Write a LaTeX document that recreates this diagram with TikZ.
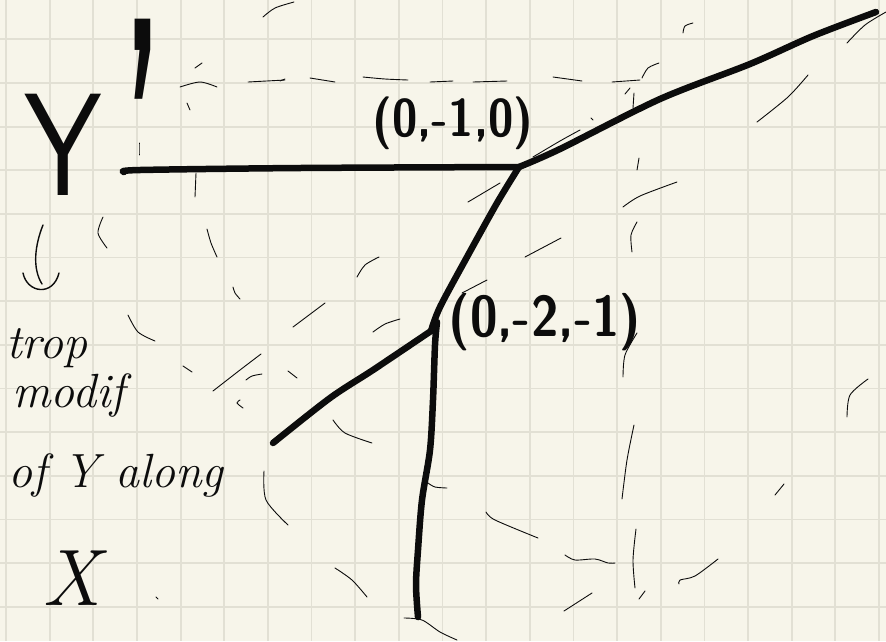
\documentclass[tikz,border=0pt]{standalone}
\usepackage{fontspec}
\definecolor{paper}{RGB}{247,245,234}
\definecolor{gridc}{RGB}{226,224,212}
\definecolor{ink}{RGB}{12,12,12}
\begin{document}
\begin{tikzpicture}[x=1pt,y=-1pt,
  gridline/.style={line width=1.8pt, gridc},
  heavy/.style={line width=6.5pt, line cap=round, line join=round, ink},
  faint/.style={line width=0.9pt, line cap=round, ink},
  hand/.style={line width=1.4pt, line cap=round, ink},
  coordlabel/.style={font=\sffamily\bfseries\fontsize{46}{46}\selectfont, inner sep=0pt, text=ink, yscale=1.15},
  note/.style={font=\itshape\fontsize{48}{48}\selectfont, inner sep=0pt, anchor=base west, text=ink}]
\useasboundingbox (0,0) rectangle (886,641);
\fill[paper] (0,0) rectangle (886,641);
\foreach \i in {0,...,20} \draw[gridline] ({6+43.65*\i},0) -- ({6+43.65*\i},641);
\foreach \j in {1,...,14} \draw[gridline] (0,{-4.35+43.65*\j}) -- (886,{-4.35+43.65*\j});

% faint strokes
\foreach \pts in {
 {(263,17) (275,8) (294,2)},
 {(195,68) (202,63)},
 {(180,87) (200,82) (217,87)},
 {(187,103) (190,110)},
 {(248,82) (285,80)},
 {(139,143) (139,155)},
 {(196,173) (195,197)},
 {(103,217) (98,233) (107,248)},
 {(207,229) (211,243) (217,257)},
 {(233,287) (235,293) (240,299)},
 {(280,81) (285,79)},
 {(310,78) (335,82)},
 {(363,77) (385,79) (408,80)},
 {(430,82) (453,81)},
 {(473,82) (507,81)},
 {(553,77) (582,81)},
 {(533,157) (560,141) (580,130)},
 {(468,202) (500,183)},
 {(612,82) (640,80)},
 {(642,78) (648,68) (659,63)},
 {(683,33) (685,26) (693,23)},
 {(625,94) (630,88)},
 {(633,108) (634,93)},
 {(591,118) (593,120)},
 {(757,122) (788,97) (808,75)},
 {(847,43) (865,25) (886,12)},
 {(637,170) (639,158)},
 {(623,207) (640,196) (677,182)},
 {(357,277) (365,265) (379,257)},
 {(293,327) (325,303)},
 {(373,332) (385,324) (400,319)},
 {(462,293) (487,280)},
 {(213,391) (240,370) (261,354)},
 {(246,380) (252,376) (262,374)},
 {(288,371) (297,378)},
 {(240,400) (237,403) (243,408)},
 {(333,420) (345,433) (372,443)},
 {(632,252) (631,235) (637,222)},
 {(525,257) (561,238)},
 {(623,377) (625,355) (637,333)},
 {(847,417) (850,395) (868,379)},
 {(264,471) (266,500) (288,525)},
 {(428,483) (435,487) (447,488)},
 {(486,512) (495,520) (538,538)},
 {(335,568) (352,580) (367,597)},
 {(404,618) (422,620) (440,632) (457,640)},
 {(634,425) (627,460) (622,499)},
 {(775,495) (784,484)},
 {(565,555) (575,560) (595,559) (608,563) (615,563)},
 {(636,529) (633,560) (635,588)},
 {(639,599) (645,591)},
 {(679,584) (680,580) (695,576) (718,559)},
 {(564,611) (592,593)},
 {(128,315) (138,332) (155,341)},
 {(183,366) (192,372)},
 {(156,597) (158,599)}}
 \draw[faint] plot[smooth] coordinates \pts;

% main heavy strokes
\coordinate (J1) at (519,167);
\coordinate (J2) at (431,331);
\coordinate (endL) at (124,172);
\coordinate (endR) at (876,12);
\coordinate (endBL) at (273,443);
\coordinate (endB) at (418,617);
\draw[heavy] plot[smooth] coordinates {(endL) (140,170) (300,168) (J1)};
\draw[heavy] plot[smooth] coordinates {(J1) (560,149) (660,99) (750,64) (813,36) (endR)};
\draw[heavy] plot[smooth] coordinates {(J1) (497,203) (467,257) (440,307) (J2)};
\draw[heavy] plot[smooth] coordinates {(J2) (373,370) (330,398) (endBL)};
\draw[heavy] plot[smooth] coordinates {(437,322) (435,345) (433,400) (430,450) (422,500) (418,550) (416,585) (endB)};

% labels
\node[coordlabel] (l1) at (453,123) {(0,-1,0)};
\node[coordlabel, font=\sffamily\bfseries\fontsize{50}{50}\selectfont] (l2) at (545,322) {(0,-2,-1)};
\node[font=\sffamily\fontsize{146}{146}\selectfont, inner sep=0pt, text=ink, anchor=base west, xscale=0.85] (Y) at (24,195) {Y\hspace{18pt}\raisebox{-95pt}{\scalebox{1}[1.7]{\fontsize{230}{230}\selectfont '}}};

% arrow
\coordinate (a0) at (43,225);
\coordinate (a1) at (42,284);
\draw[hand] (a0) .. controls (35,245) and (32,268) .. (a1);
\draw[hand] (23,273) .. controls (27,293) and (53,297) .. (59,273);

% note
\node[note] (n1) at (6,358) {trop};
\node[note] (n2) at (12,407) {modif};
\node[note] (n3) at (8,487) {of Y along};
\node[note, font=\itshape\fontsize{80}{80}\selectfont] (n4) at (42,605) {X};
\end{tikzpicture}
\end{document}
